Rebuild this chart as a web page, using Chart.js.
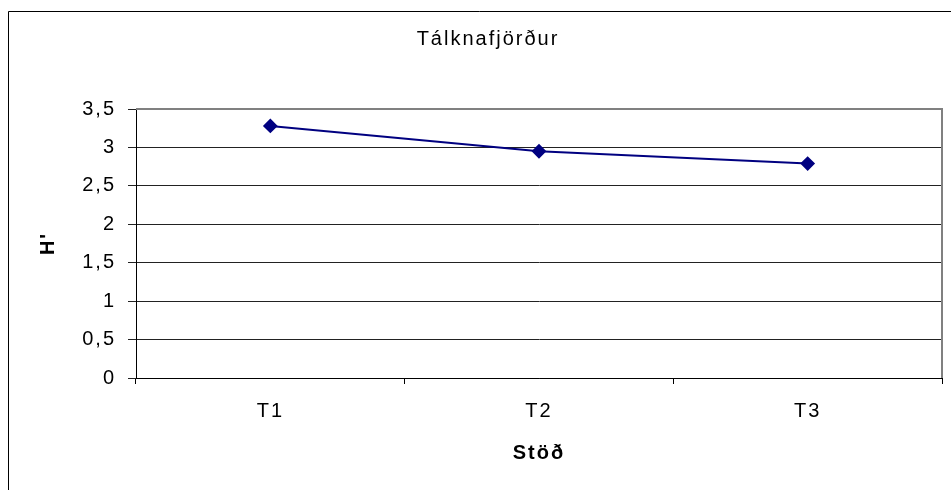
<html>
<head>
<meta charset="utf-8">
<script src="https://cdn.jsdelivr.net/npm/chart.js@4.4.1/dist/chart.umd.min.js"></script>
</head>
<body style="margin:0; background:#fff;">
    <div style="position:relative; width:951px; height:490px;">
        <canvas id="myChart"></canvas>
    </div>
</body>
<script>
    // values
    var stations = ["T1", "T2", "T3"];
    var hValues = [3.28, 2.95, 2.79];
    var chartTitle = "Tálknafjörður";
    var xTitle = "Stöð";
    var yTitle = "H'";

    var font = "'Liberation Sans', Arial, sans-serif";

    // excel-ish wide text spacing
    function spacing(chart) {
        chart.ctx.letterSpacing = "2px";
    }

    // outer frame + plot area border (gray top/right like excel)
    var framePlugin = {
        id: "frame",
        beforeUpdate: spacing,
        beforeLayout: spacing,
        beforeDraw: function (chart) {
            spacing(chart);
            var ctx = chart.ctx;
            ctx.save();
            ctx.strokeStyle = "#000";
            ctx.lineWidth = 1;
            ctx.beginPath();
            ctx.moveTo(8.5, 490);
            ctx.lineTo(8.5, 11.5);
            ctx.lineTo(951, 11.5);
            ctx.stroke();
            ctx.restore();
        },
        beforeDatasetsDraw: function (chart) {
            var a = chart.chartArea;
            var ctx = chart.ctx;
            ctx.save();
            ctx.strokeStyle = "#808080";
            ctx.lineWidth = 2;
            ctx.beginPath();
            ctx.moveTo(a.left, a.top);
            ctx.lineTo(a.right, a.top);
            ctx.lineTo(a.right, a.bottom);
            ctx.stroke();
            ctx.restore();
        }
    };

    new Chart("myChart", {
        type: "line",
        data: {
            labels: stations,
            datasets: [{
                data: hValues,
                borderColor: "#000080",
                backgroundColor: "#000080",
                borderWidth: 2,
                pointStyle: "rectRot",
                pointRadius: 6,
                pointHoverRadius: 6,
                fill: false,
                tension: 0
            }]
        },
        options: {
            responsive: true,
            maintainAspectRatio: false,
            animation: false,
            layout: { padding: { left: 34, right: 9, top: 0, bottom: 0 } },
            plugins: {
                legend: { display: false },
                tooltip: { enabled: false },
                title: {
                    display: true,
                    text: chartTitle,
                    color: "#000",
                    font: { family: font, size: 20, weight: "normal" },
                    padding: { top: 27, bottom: 58 }
                }
            },
            scales: {
                x: {
                    offset: true,
                    grid: {
                        offset: true,
                        drawOnChartArea: false,
                        color: "#000",
                        tickLength: 6
                    },
                    border: { color: "#000", width: 1 },
                    ticks: {
                        color: "#000",
                        padding: 15,
                        font: { family: font, size: 20 }
                    },
                    title: {
                        display: true,
                        text: xTitle,
                        color: "#000",
                        font: { family: font, size: 20, weight: "bold" },
                        padding: { top: 0, bottom: 25 }
                    },
                    afterFit: function (scale) { scale.height = 112; }
                },
                y: {
                    min: 0,
                    max: 3.5,
                    ticks: {
                        stepSize: 0.5,
                        color: "#000",
                        padding: 12,
                        font: { family: font, size: 20 },
                        callback: function (v) { return String(v).replace(".", ","); }
                    },
                    grid: {
                        color: "#222",
                        lineWidth: 1,
                        tickLength: 8
                    },
                    border: { color: "#000", width: 1 },
                    title: {
                        display: true,
                        text: yTitle,
                        color: "#000",
                        font: { family: font, size: 20, weight: "bold" },
                        padding: { top: 2, bottom: 0 }
                    },
                    afterFit: function (scale) { scale.width = 102; }
                }
            }
        },
        plugins: [framePlugin]
    });
</script>
</html>
